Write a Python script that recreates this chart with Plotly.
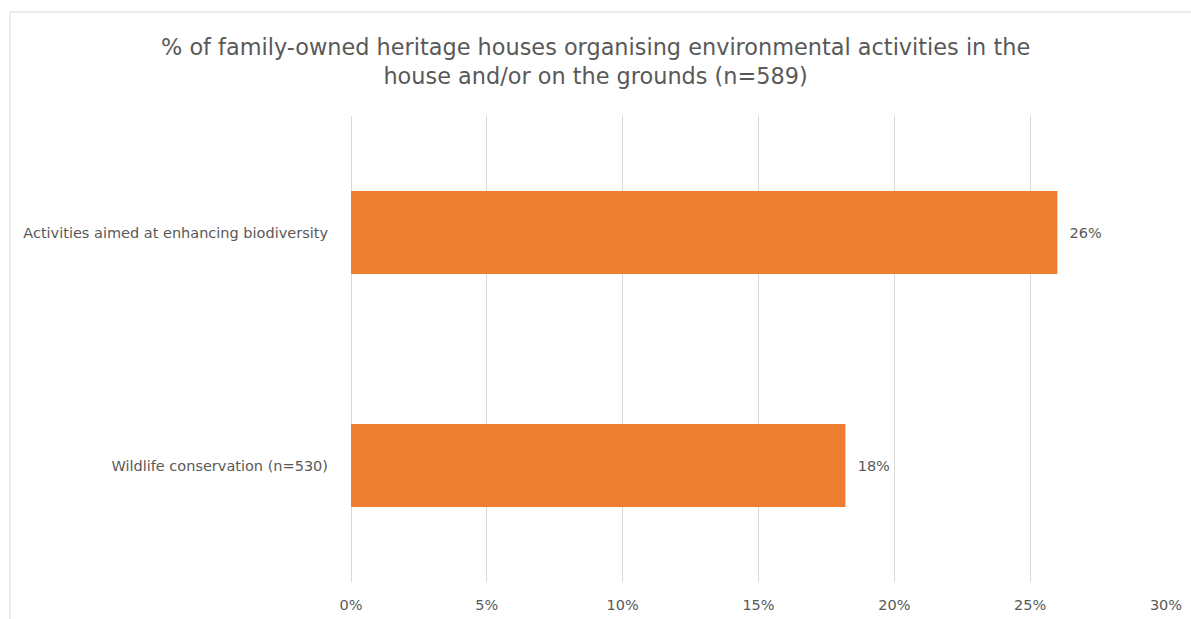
import plotly.graph_objects as go

# Survey results: share of family-owned heritage houses (n=589)
categories = ["Wildlife conservation (n=530)", "Activities aimed at enhancing biodiversity"]
shares = [0.182, 0.26]
tick_values = [0, 0.05, 0.10, 0.15, 0.20, 0.25, 0.30]
tick_labels = ["0%", "5%", "10%", "15%", "20%", "25%", "30%"]

title_text = ("% of family-owned heritage houses organising environmental activities in the"
              "<br>house and/or on the grounds (n=589)")

grey = "#595959"
grid = "#d9d9d9"
font_family = "Tahoma, Verdana, DejaVu Sans, sans-serif"

fig = go.Figure(
    go.Bar(
        y=categories,
        x=shares,
        orientation="h",
        marker=dict(color="#ED7D31", line=dict(width=0)),
        texttemplate="\u00a0\u00a0%{x:.0%}",
        textposition="outside",
        textfont=dict(family=font_family, size=14.5, color=grey),
        cliponaxis=False,
        hoverinfo="skip",
    )
)

fig.update_layout(
    width=1191,
    height=619,
    margin=dict(l=351, r=25, t=116, b=37, autoexpand=False),
    paper_bgcolor="white",
    plot_bgcolor="white",
    bargap=0.643,
    showlegend=False,
    xaxis=dict(
        range=[0, 0.30],
        tickvals=tick_values,
        ticktext=tick_labels,
        showgrid=True,
        gridcolor=grid,
        gridwidth=1,
        zeroline=True,
        zerolinecolor=grid,
        zerolinewidth=1,
        showline=False,
        ticks="",
        tickfont=dict(family=font_family, size=14.5, color=grey),
        ticklabelstandoff=12,
        automargin=False,
        fixedrange=True,
    ),
    yaxis=dict(
        showgrid=False,
        zeroline=False,
        showline=False,
        ticks="",
        tickfont=dict(family=font_family, size=14.5, color=grey),
        ticklabelstandoff=22,
        automargin=False,
        fixedrange=True,
    ),
    annotations=[
        # chart title, centred on the whole chart area
        dict(
            text=title_text,
            xref="paper",
            yref="paper",
            x=0.3,
            y=1.118,
            xanchor="center",
            yanchor="middle",
            showarrow=False,
            align="center",
            font=dict(family=font_family, size=22.4, color=grey),
        )
    ],
    shapes=[
        # chart area border
        dict(
            type="rect",
            xref="paper",
            yref="paper",
            x0=-0.4184,
            x1=1.2,
            y0=-0.3,
            y1=1.2232,
            line=dict(color=grid, width=1),
            fillcolor="rgba(0,0,0,0)",
            layer="below",
        )
    ],
)

fig.write_html("out.html")
